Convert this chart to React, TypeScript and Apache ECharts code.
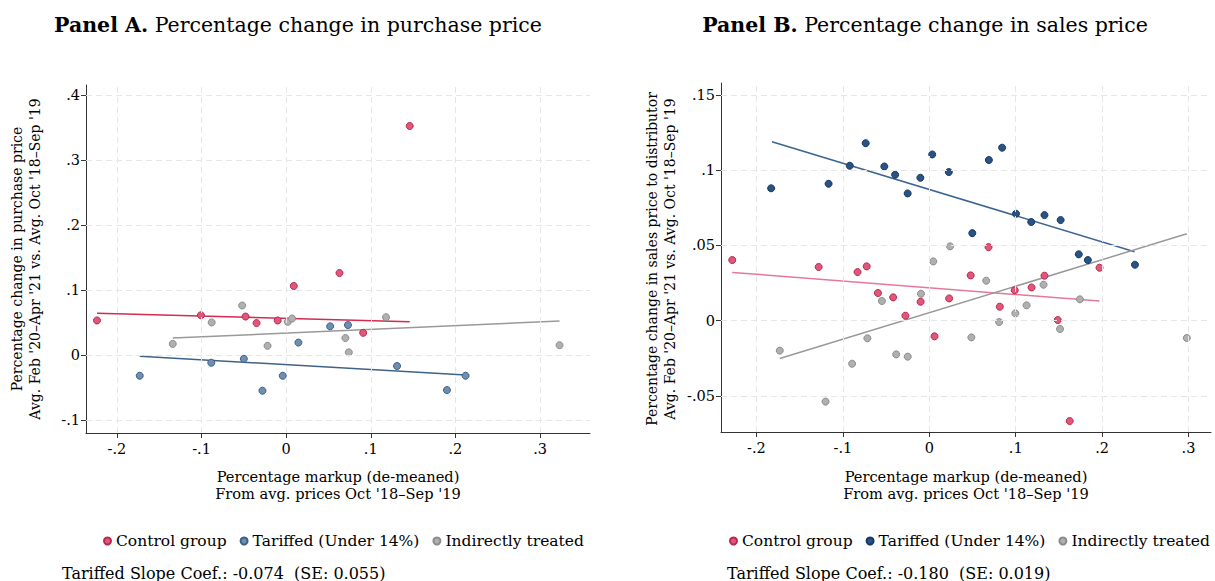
import React, { useEffect, useRef } from "react";
import * as echarts from "echarts";

const FONT = "'DejaVu Serif', serif";

// Panel A data [markup, change]
const aControl = [[-0.2235,0.053],[-0.1007,0.061],[-0.048,0.059],[-0.035,0.049],[-0.010,0.053],[0.009,0.106],[0.063,0.126],[0.091,0.034],[0.146,0.352]];
const aTariffed = [[-0.173,-0.032],[-0.0885,-0.012],[-0.050,-0.006],[-0.028,-0.055],[-0.004,-0.032],[0.0145,0.019],[0.052,0.044],[0.073,0.046],[0.131,-0.017],[0.190,-0.054],[0.212,-0.032]];
const aIndirect = [[-0.134,0.017],[-0.088,0.050],[-0.052,0.076],[-0.022,0.014],[0.002,0.051],[0.007,0.056],[0.070,0.026],[0.074,0.004],[0.118,0.058],[0.323,0.015]];
const aFitControl = [[-0.2235,0.064],[0.146,0.051]];
const aFitTariffed = [[-0.173,-0.002],[0.212,-0.031]];
const aFitIndirect = [[-0.134,0.026],[0.323,0.052]];

// Panel B data
const bControl = [[-0.228,0.0403],[-0.128,0.0357],[-0.083,0.0323],[-0.0724,0.0361],[-0.0594,0.0184],[-0.0418,0.0155],[-0.0276,0.0033],[-0.010,0.0126],[0.0061,-0.0104],[0.023,0.0148],[0.0479,0.0301],[0.0686,0.0489],[0.0816,0.0093],[0.0989,0.0202],[0.1184,0.0221],[0.1333,0.0299],[0.1487,0.0004],[0.1625,-0.0667],[0.197,0.0352]];
const bTariffed = [[-0.183,0.088],[-0.1165,0.091],[-0.092,0.103],[-0.0736,0.118],[-0.052,0.1025],[-0.0395,0.097],[-0.025,0.0846],[-0.0103,0.095],[0.0034,0.1105],[0.0226,0.0988],[0.0498,0.0582],[0.069,0.1068],[0.0843,0.115],[0.1004,0.0711],[0.118,0.0656],[0.1333,0.0702],[0.152,0.0669],[0.173,0.0441],[0.1835,0.0403],[0.238,0.0372]];
const bIndirect = [[-0.173,-0.0199],[-0.120,-0.0538],[-0.0893,-0.0286],[-0.0716,-0.0117],[-0.0548,0.0131],[-0.0383,-0.0224],[-0.0249,-0.0239],[-0.0096,0.0179],[0.0046,0.0394],[0.0241,0.0494],[0.0487,-0.0111],[0.0659,0.0266],[0.0808,-0.0009],[0.0996,0.0049],[0.1126,0.0102],[0.1322,0.0239],[0.1513,-0.0055],[0.1743,0.0142],[0.298,-0.0115]];
const bFitControl = [[-0.228,0.0321],[0.197,0.0131]];
const bFitTariffed = [[-0.182,0.119],[0.2375,0.0458]];
const bFitIndirect = [[-0.173,-0.0252],[0.298,0.0578]];

const seriesNames = ["Control group", "Tariffed (Under 14%)", "Indirectly treated"];
const xTickValues = [-0.2, -0.1, 0, 0.1, 0.2, 0.3];

const fmt = (v: number) => {
  if (Math.abs(v) < 1e-9) return "0";
  const s = String(Math.round(v * 1000) / 1000);
  return s.replace(/^(-?)0\./, "$1.");
};

type PanelCfg = {
  titleBold: string; titleRest: string; yName: string[];
  pts: number[][][]; fits: number[][][];
  ptColors: string[]; ptBorders: string[]; lineColors: string[];
  xMin: number; xMax: number; yMin: number; yMax: number; yInterval: number;
  grid: any; footnote: string; footX: number; legendLeft: number; titleX: number;
};

const panels: PanelCfg[] = [
  {
    titleBold: "Panel A.", titleRest: " Percentage change in purchase price",
    yName: ["Percentage change in purchase price", "Avg. Feb '20–Apr '21 vs. Avg. Oct '18–Sep '19"],
    pts: [aControl, aTariffed, aIndirect], fits: [aFitControl, aFitTariffed, aFitIndirect],
    ptColors: ["#e0577a", "#6f8fb0", "#b0b0b0"], ptBorders: ["#b8284e", "#3d5f85", "#8c8c8c"],
    lineColors: ["#d42a50", "#3f6288", "#999999"],
    xMin: -0.2365, xMax: 0.359, yMin: -0.12, yMax: 0.415, yInterval: 0.1,
    grid: { left: 86, right: 17, top: 85, bottom: 148 },
    footnote: "Tariffed Slope Coef.: -0.074  (SE: 0.055)", footX: 62, legendLeft: 98, titleX: 298,
  },
  {
    titleBold: "Panel B.", titleRest: " Percentage change in sales price",
    yName: ["Percentage change in sales price to distributor", "Avg. Feb '20–Apr '21 vs. Avg. Oct '18–Sep '19"],
    pts: [bControl, bTariffed, bIndirect], fits: [bFitControl, bFitTariffed, bFitIndirect],
    ptColors: ["#e0577a", "#2a5282", "#b0b0b0"], ptBorders: ["#b8284e", "#153a63", "#8c8c8c"],
    lineColors: ["#e57898", "#3b6591", "#999999"],
    xMin: -0.241, xMax: 0.326, yMin: -0.074, yMax: 0.158, yInterval: 0.05,
    grid: { left: 114, right: 3, top: 83, bottom: 149 },
    footnote: "Tariffed Slope Coef.: -0.180  (SE: 0.019)", footX: 120, legendLeft: 117, titleX: 318,
  },
];

function yTicks(cfg: PanelCfg) {
  const out: number[] = [];
  const start = Math.ceil(cfg.yMin / cfg.yInterval - 1e-9);
  for (let k = start; k * cfg.yInterval <= cfg.yMax + 1e-9; k++) out.push(Math.round(k * cfg.yInterval * 1000) / 1000);
  return out;
}

function Panel({ cfg }: { cfg: PanelCfg }) {
  const ref = useRef<HTMLDivElement>(null);
  useEffect(() => {
    const chart = echarts.init(ref.current!, undefined, { renderer: "svg" });
    const gridCenter = cfg.grid.left + (607 - cfg.grid.left - cfg.grid.right) / 2;
    const series: any[] = [];
    cfg.pts.forEach((d, i) => {
      series.push({
        type: "scatter", name: seriesNames[i], data: d, symbolSize: 7,
        itemStyle: { color: cfg.ptColors[i], borderColor: cfg.ptBorders[i], borderWidth: 1, opacity: 1 },
        z: 3,
      });
    });
    cfg.fits.forEach((d, i) => {
      series.push({
        type: "line", name: "fit" + i, data: d, symbol: "none",
        lineStyle: { color: cfg.lineColors[i], width: 1.5 }, z: 2,
      });
    });
    const yt = yTicks(cfg);
    const dash = { color: "#e6e6e6", type: [6, 4], width: 1 };
    const markLines: any[] = [
      ...xTickValues.map((v) => ({ xAxis: v })),
      ...yt.map((v) => ({ yAxis: v })),
    ];
    series.push({
      type: "line", name: "grid", data: [], silent: true,
      markLine: { silent: true, symbol: "none", label: { show: false }, lineStyle: dash, data: markLines },
      z: 1,
    });
    const tickFont = { fontSize: 14.5, color: "#000", fontFamily: FONT };
    chart.setOption({
      animation: false,
      textStyle: { fontFamily: FONT },
      grid: cfg.grid,
      xAxis: {
        type: "value", min: cfg.xMin, max: cfg.xMax,
        axisLine: { show: true, onZero: false, lineStyle: { color: "#333" } },
        axisTick: { show: true, length: 5, lineStyle: { color: "#333" }, customValues: xTickValues },
        axisLabel: { ...tickFont, margin: 8, formatter: (v: number) => fmt(v), customValues: xTickValues },
        splitLine: { show: false },
      },
      yAxis: {
        type: "value", min: cfg.yMin, max: cfg.yMax,
        axisLine: { show: true, onZero: false, lineStyle: { color: "#333" } },
        axisTick: { show: true, length: 5, lineStyle: { color: "#333" }, customValues: yt },
        axisLabel: { ...tickFont, margin: 6, formatter: (v: number) => fmt(v), customValues: yt },
        splitLine: { show: false },
      },
      legend: {
        data: seriesNames.map((n) => ({ name: n, icon: "circle" })),
        left: cfg.legendLeft, top: 528, width: 500, itemWidth: 7, itemHeight: 7, itemGap: 13,
        textStyle: { fontSize: 15.5, fontFamily: FONT, color: "#000" },
      },
      graphic: [
        {
          type: "text", x: cfg.titleX, y: 14,
          style: {
            text: "{b|" + cfg.titleBold + "}{r|" + cfg.titleRest + "}", align: "center",
            rich: {
              b: { fontSize: 20.5, fontWeight: "bold", fontFamily: FONT, fill: "#000" },
              r: { fontSize: 20.5, fontFamily: FONT, fill: "#000" },
            },
          } as any,
        },
        {
          type: "text", x: gridCenter, y: 468,
          style: { text: "Percentage markup (de-meaned)\nFrom avg. prices Oct '18–Sep '19", fontSize: 14.6, lineHeight: 17, fontFamily: FONT, fill: "#000", align: "center" },
        },
        {
          type: "text", x: cfg.grid.left - 78, y: 85 + (433 - 85) / 2, rotation: Math.PI / 2,
          style: { text: cfg.yName.join("\n"), fontSize: 14, lineHeight: 18, fontFamily: FONT, fill: "#000", align: "center", verticalAlign: "top" },
        },
        {
          type: "text", x: cfg.footX, y: 565,
          style: { text: cfg.footnote, fontSize: 16, fontFamily: FONT, fill: "#000" },
        },
      ],
      series,
    } as any);
    return () => chart.dispose();
  }, []);
  return <div ref={ref} style={{ width: 607, height: 581 }} />;
}

export default function App() {
  return (
    <div style={{ position: "fixed", left: 0, top: 0, width: 1215, height: 581, display: "flex", background: "#fff" }}>
      <Panel cfg={panels[0]} />
      <Panel cfg={panels[1]} />
    </div>
  );
}
